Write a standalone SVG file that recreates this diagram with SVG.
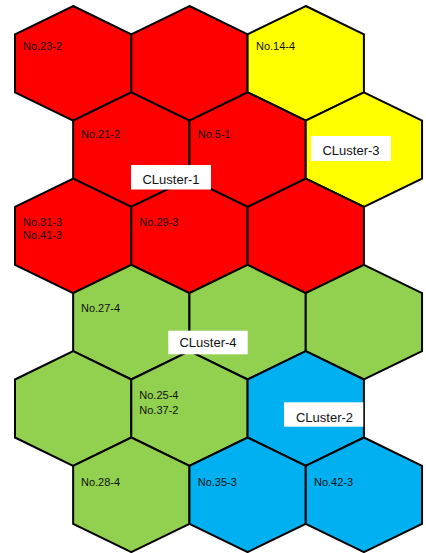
<svg xmlns="http://www.w3.org/2000/svg" width="426" height="553" viewBox="0 0 426 553">
<style>
.hex{stroke:#000;stroke-width:2;stroke-linejoin:miter}
.red{fill:#FF0000}.yel{fill:#FFFF00}.grn{fill:#92D050}.blu{fill:#00B0F0}
.lbl{font-family:"Liberation Sans",Arial,sans-serif;font-size:11px;fill:#111}
.box{fill:#fff}
.cl{font-family:"Liberation Sans",Arial,sans-serif;font-size:13px;fill:#111;text-anchor:middle}
</style>
<rect width="426" height="553" fill="#fff"/>
<g id="hex-r0c0"><polygon class="hex red" points="73.15,6 131.3,34.3 131.3,92.3 73.15,120.6 15,92.3 15,34.3"/><text class="lbl" x="23" y="50">No.23-2</text></g>
<g id="hex-r0c1"><polygon class="hex red" points="189.45,6 247.6,34.3 247.6,92.3 189.45,120.6 131.3,92.3 131.3,34.3"/></g>
<g id="hex-r0c2"><polygon class="hex yel" points="305.75,6 363.9,34.3 363.9,92.3 305.75,120.6 247.6,92.3 247.6,34.3"/><text class="lbl" x="256" y="50">No.14-4</text></g>
<g id="hex-r1c0"><polygon class="hex red" points="131.3,92.3 189.45,120.6 189.45,178.6 131.3,206.9 73.15,178.6 73.15,120.6"/><text class="lbl" x="81" y="138.2">No.21-2</text></g>
<g id="hex-r1c1"><polygon class="hex red" points="247.6,92.3 305.75,120.6 305.75,178.6 247.6,206.9 189.45,178.6 189.45,120.6"/><text class="lbl" x="197.7" y="138.2">No.5-1</text></g>
<g id="hex-r1c2"><polygon class="hex yel" points="363.9,92.3 422.05,120.6 422.05,178.6 363.9,206.9 305.75,178.6 305.75,120.6"/></g>
<g id="hex-r2c0"><polygon class="hex red" points="73.15,178.6 131.3,206.9 131.3,264.9 73.15,293.2 15,264.9 15,206.9"/><text class="lbl" x="23" y="225.6">No.31-3</text><text class="lbl" x="23" y="239">No.41-3</text></g>
<g id="hex-r2c1"><polygon class="hex red" points="189.45,178.6 247.6,206.9 247.6,264.9 189.45,293.2 131.3,264.9 131.3,206.9"/><text class="lbl" x="139.3" y="225.6">No.29-3</text></g>
<g id="hex-r2c2"><polygon class="hex red" points="305.75,178.6 363.9,206.9 363.9,264.9 305.75,293.2 247.6,264.9 247.6,206.9"/></g>
<g id="hex-r3c0"><polygon class="hex grn" points="131.3,264.9 189.45,293.2 189.45,351.2 131.3,379.5 73.15,351.2 73.15,293.2"/><text class="lbl" x="81" y="311.6">No.27-4</text></g>
<g id="hex-r3c1"><polygon class="hex grn" points="247.6,264.9 305.75,293.2 305.75,351.2 247.6,379.5 189.45,351.2 189.45,293.2"/></g>
<g id="hex-r3c2"><polygon class="hex grn" points="363.9,264.9 422.05,293.2 422.05,351.2 363.9,379.5 305.75,351.2 305.75,293.2"/></g>
<g id="hex-r4c0"><polygon class="hex grn" points="73.15,351.2 131.3,379.5 131.3,437.5 73.15,465.8 15,437.5 15,379.5"/></g>
<g id="hex-r4c1"><polygon class="hex grn" points="189.45,351.2 247.6,379.5 247.6,437.5 189.45,465.8 131.3,437.5 131.3,379.5"/><text class="lbl" x="139.3" y="399">No.25-4</text><text class="lbl" x="139.3" y="414.2">No.37-2</text></g>
<g id="hex-r4c2"><polygon class="hex blu" points="305.75,351.2 363.9,379.5 363.9,437.5 305.75,465.8 247.6,437.5 247.6,379.5"/></g>
<g id="hex-r5c0"><polygon class="hex grn" points="131.3,437.5 189.45,465.8 189.45,523.8 131.3,552.1 73.15,523.8 73.15,465.8"/><text class="lbl" x="81" y="486.2">No.28-4</text></g>
<g id="hex-r5c1"><polygon class="hex blu" points="247.6,437.5 305.75,465.8 305.75,523.8 247.6,552.1 189.45,523.8 189.45,465.8"/><text class="lbl" x="197.7" y="486.2">No.35-3</text></g>
<g id="hex-r5c2"><polygon class="hex blu" points="363.9,437.5 422.05,465.8 422.05,523.8 363.9,552.1 305.75,523.8 305.75,465.8"/><text class="lbl" x="314" y="486.2">No.42-3</text></g>
<g id="cluster-1"><rect class="box" x="131" y="165" width="80" height="24.5"/><text class="cl" x="171" y="184.2">CLuster-1</text></g>
<g id="cluster-3"><rect class="box" x="311" y="136" width="80" height="25"/><text class="cl" x="351" y="155.3">CLuster-3</text></g>
<g id="cluster-4"><rect class="box" x="168.3" y="330.7" width="79.4" height="23.6"/><text class="cl" x="208" y="347.2">CLuster-4</text></g>
<g id="cluster-2"><rect class="box" x="284" y="402.3" width="79.3" height="24.4"/><text class="cl" x="324.5" y="422">CLuster-2</text></g>
</svg>
